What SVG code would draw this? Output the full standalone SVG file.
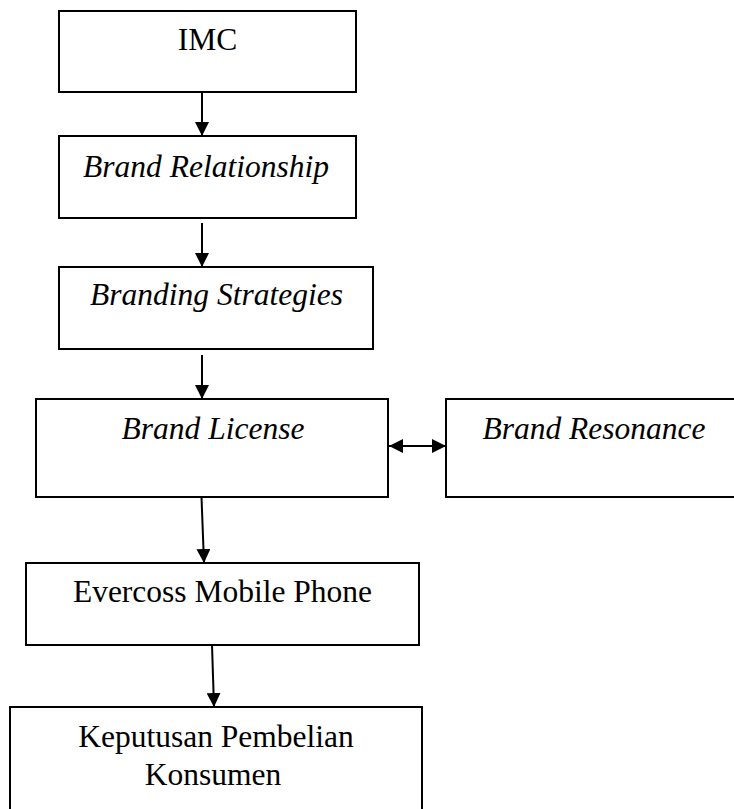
<svg xmlns="http://www.w3.org/2000/svg" width="734" height="809" viewBox="0 0 734 809">
<style>
.box{fill:#fff;stroke:#000;stroke-width:2}
.t{font-family:"Liberation Serif","Times New Roman",serif;font-size:31.5px;fill:#000;text-anchor:middle}
.i{font-style:italic}
.c{stroke:#000;stroke-width:2;fill:none}
</style>
<defs>
<marker id="ah" markerUnits="userSpaceOnUse" markerWidth="14" markerHeight="14" refX="14" refY="7" orient="auto-start-reverse">
<path d="M0,0 L14,7 L0,14 Z" fill="#000"/>
</marker>
</defs>
<rect width="734" height="809" fill="#fff"/>
<g id="imc"><rect class="box" x="59" y="11" width="297" height="81"/><text class="t" x="207.5" y="50">IMC</text></g>
<g id="brand-relationship"><rect class="box" x="59" y="136" width="297" height="82"/><text class="t i" x="206" y="177">Brand Relationship</text></g>
<g id="branding-strategies"><rect class="box" x="59" y="267" width="314" height="82"/><text class="t i" x="216.5" y="305">Branding Strategies</text></g>
<g id="brand-license"><rect class="box" x="36" y="399" width="352" height="98"/><text class="t i" x="213" y="439">Brand License</text></g>
<g id="brand-resonance"><rect class="box" x="446" y="399" width="300" height="98"/><text class="t i" x="594" y="439">Brand Resonance</text></g>
<g id="evercoss"><rect class="box" x="26" y="563" width="393" height="82"/><text class="t" x="222.5" y="602">Evercoss Mobile Phone</text></g>
<g id="keputusan"><rect class="box" x="10" y="707" width="412" height="120"/><text class="t" x="216" y="747">Keputusan Pembelian</text><text class="t" x="213" y="785">Konsumen</text></g>
<g id="connectors">
<line class="c" x1="202" y1="92" x2="202" y2="136" marker-end="url(#ah)"/>
<line class="c" x1="202" y1="223" x2="202" y2="267" marker-end="url(#ah)"/>
<line class="c" x1="202" y1="355" x2="202" y2="399" marker-end="url(#ah)"/>
<line class="c" x1="201.5" y1="497" x2="204" y2="563" marker-end="url(#ah)"/>
<line class="c" x1="212" y1="645" x2="214" y2="707" marker-end="url(#ah)"/>
<line class="c" x1="389" y1="446" x2="446" y2="446" marker-start="url(#ah)" marker-end="url(#ah)"/>
</g>
</svg>
